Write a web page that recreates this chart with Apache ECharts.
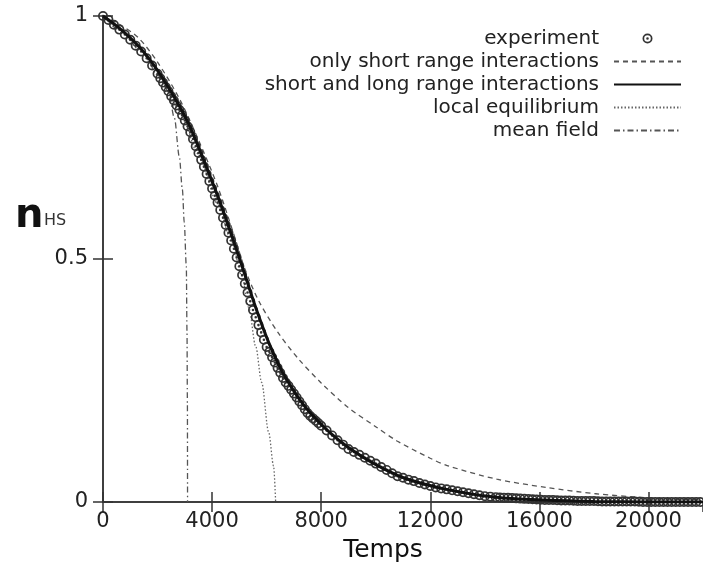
<!DOCTYPE html>
<html>
<head>
<meta charset="utf-8">
<script src="https://cdn.jsdelivr.net/npm/echarts@6/dist/echarts.min.js"></script>
<style>
html,body{margin:0;padding:0;background:#fff;}
#chart{width:703px;height:568px;}
</style>
</head>
<body>
<div id="chart"></div>
<script>
// ---- data (time, n_HS) ----
const xTicks = [0, 4000, 8000, 12000, 16000, 20000];
const yTicks = [0, 0.5, 1];

const experiment = [
[0,1.000],[200,0.992],[400,0.982],[600,0.972],[800,0.962],[1000,0.951],[1200,0.939],[1400,0.927],[1600,0.913],[1800,0.898],[2000,0.881],
[2100,0.872],[2200,0.863],[2300,0.854],[2400,0.845],[2500,0.835],[2600,0.826],[2700,0.816],[2800,0.807],[2900,0.796],[3000,0.785],
[3100,0.773],[3200,0.761],[3300,0.747],[3400,0.732],[3500,0.718],[3600,0.704],[3700,0.690],[3800,0.675],[3900,0.660],[4000,0.645],
[4100,0.630],[4200,0.616],[4300,0.601],[4400,0.585],[4500,0.570],[4600,0.554],[4700,0.538],[4800,0.521],[4900,0.503],[5000,0.485],
[5100,0.467],[5200,0.449],[5300,0.431],[5400,0.413],[5500,0.395],[5600,0.380],[5700,0.364],[5800,0.349],[5900,0.334],[6000,0.319],
[6100,0.309],[6200,0.298],[6300,0.287],[6400,0.276],[6500,0.266],[6600,0.255],[6700,0.246],[6800,0.239],[6900,0.231],[7000,0.223],
[7100,0.215],[7200,0.207],[7300,0.199],[7400,0.191],[7500,0.183],[7600,0.177],[7700,0.172],[7800,0.167],[7900,0.162],[8000,0.157],
[8200,0.147],[8400,0.137],[8600,0.127],[8800,0.118],[9000,0.109],[9200,0.103],[9400,0.097],[9600,0.091],[9800,0.085],[10000,0.079],
[10200,0.072],[10400,0.066],[10600,0.059],[10800,0.053],[11000,0.050],[11200,0.046],[11400,0.043],[11600,0.039],[11800,0.036],[12000,0.033],
[12200,0.030],[12400,0.028],[12600,0.026],[12800,0.024],[13000,0.022],[13200,0.020],[13400,0.018],[13600,0.016],[13800,0.014],[14000,0.012],
[14200,0.011],[14400,0.010],[14550,0.0095],[14700,0.009],[14850,0.0085],[15000,0.008],[15150,0.0075],[15300,0.007],[15450,0.0065],
[15600,0.006],[15750,0.0055],[15900,0.005],[16050,0.0045],[16200,0.004],[16350,0.004],[16500,0.004],[16650,0.0035],[16800,0.003],
[16950,0.003],[17100,0.003],[17250,0.0025],[17400,0.002],[17550,0.002],[17700,0.002],[17850,0.002],[18000,0.002],[18150,0.0015],
[18300,0.001],[18450,0.001],[18600,0.001],[18750,0.001],[18900,0.001],[19050,0.001],[19200,0.001],[19350,0.001],[19500,0.001],
[19650,0.0005],[19800,0.000],[19950,0.000],[20100,0.000],[20250,0.000],[20400,0.000],[20550,0.000],[20700,0.000],[20850,0.000],
[21000,0.000],[21150,0.000],[21300,0.000],[21450,0.000],[21600,0.000],[21750,0.000],[21900,0.000]
];

const shortRange = [
[0,1.000],[600,0.983],[1300,0.955],[2000,0.905],[2800,0.830],[3500,0.745],[4200,0.650],[4800,0.550],[5200,0.480],[5700,0.415],
[6400,0.350],[7160,0.295],[8000,0.245],[8980,0.195],[10000,0.155],[10800,0.125],[12000,0.090],[12620,0.075],[14440,0.047],
[16250,0.030],[18070,0.017],[19890,0.009],[21700,0.005],[22000,0.005]
];

const shortLongRange = [
[0,1.000],[600,0.975],[1350,0.935],[2073,0.882],[2800,0.815],[3200,0.771],[3800,0.688],[4300,0.615],[4800,0.535],[5200,0.468],
[5600,0.400],[6100,0.325],[6700,0.255],[7600,0.183],[9000,0.112],[10800,0.055],[12600,0.026],[14400,0.010],[16200,0.004],
[18000,0.001],[20000,0.000],[22000,0.000]
];

const localEquilibrium = [
[0,1.000],[600,0.972],[1350,0.930],[2073,0.875],[2800,0.807],[3500,0.716],[4200,0.614],[4727,0.534],[5091,0.465],[5345,0.400],
[5600,0.320],[5818,0.246],[6073,0.144],[6255,0.074],[6330,0.000]
];

const meanField = [
[0,1.000],[600,0.972],[1350,0.932],[2073,0.877],[2400,0.845],[2618,0.790],[2800,0.710],[2910,0.643],[2980,0.575],[3055,0.485],
[3080,0.350],[3095,0.200],[3100,0.000]
];

const seriesNames = ['experiment', 'only short range interactions', 'short and long range interactions', 'local equilibrium', 'mean field'];

// ---- chart ----
const ringDot = 'path://M0,-10A10,10 0 1,1 0,10A10,10 0 1,1 0,-10ZM0,-6.6A6.6,6.6 0 1,0 0,6.6A6.6,6.6 0 1,0 0,-6.6ZM0,-2.6A2.6,2.6 0 1,1 0,2.6A2.6,2.6 0 1,1 0,-2.6Z';
const axisColor = '#333';
const font = 'DejaVu Sans';

const legendData = seriesNames.map((n, i) => (i === 0 ? {name: n} :
  {name: n, itemStyle: {color: 'rgba(0,0,0,0)', borderColor: 'rgba(0,0,0,0)', borderWidth: 0, opacity: 0}}));

const chart = echarts.init(document.getElementById('chart'), null, {renderer: 'canvas'});
chart.setOption({
  animation: false,
  backgroundColor: '#fff',
  grid: {left: 103, top: 16, width: 605, height: 487, containLabel: false},
  legend: {
    orient: 'vertical', right: 16, top: 22, align: 'right',
    itemWidth: 67, itemHeight: 10, itemGap: 0,
    selectedMode: false,
    textStyle: {fontFamily: font, fontSize: 20, color: '#222', lineHeight: 23, padding: [0, 10, 0, 0]},
    data: legendData
  },
  xAxis: [{
    type: 'value', position: 'bottom', min: 0, max: 22000, interval: 4000,
    axisLine: {lineStyle: {color: axisColor, width: 1.5}},
    axisTick: {inside: true, length: 10, lineStyle: {color: axisColor, width: 1.5}},
    splitLine: {show: false},
    axisLabel: {fontFamily: font, fontSize: 21, color: '#222', margin: 9, showMaxLabel: false,
      formatter: v => (xTicks.indexOf(v) >= 0 ? String(v) : '')},
    name: 'Temps', nameLocation: 'middle', nameGap: 36,
    nameTextStyle: {fontFamily: font, fontSize: 25, color: '#111', padding: [0, 40, 0, 0]}
  }, {
    type: 'value', position: 'top', min: 0, max: 22000, interval: 4000,
    axisLine: {lineStyle: {color: axisColor, width: 1.5}},
    axisTick: {inside: true, length: 10, lineStyle: {color: axisColor, width: 1.5}},
    splitLine: {show: false}, axisLabel: {show: false}
  }],
  yAxis: [{
    type: 'value', position: 'left', min: 0, max: 1, interval: 0.5,
    axisLine: {lineStyle: {color: axisColor, width: 1.5}},
    axisTick: {inside: true, length: 10, lineStyle: {color: axisColor, width: 1.5}},
    splitLine: {show: false},
    axisLabel: {fontFamily: font, fontSize: 21, color: '#222', margin: 15,
      formatter: v => (yTicks.indexOf(v) >= 0 ? String(v) : '')}
  }, {
    type: 'value', position: 'right', min: 0, max: 1, interval: 0.5,
    axisLine: {lineStyle: {color: axisColor, width: 1.5}},
    axisTick: {inside: true, length: 10, lineStyle: {color: axisColor, width: 1.5}},
    splitLine: {show: false}, axisLabel: {show: false}
  }],
  graphic: [
    {type: 'text', x: 15, y: 217, style: {text: 'n', font: 'bold 40px "DejaVu Sans"', fill: '#111', verticalAlign: 'middle'}},
    {type: 'text', x: 44, y: 221, style: {text: 'HS', font: '16px "DejaVu Sans"', fill: '#333', verticalAlign: 'middle'}}
  ],
  series: [
    {name: seriesNames[1], type: 'line', data: shortRange, symbol: 'none', smooth: 0.3, z: 2,
      lineStyle: {color: '#555', width: 1.3, type: [5, 4]}, itemStyle: {color: '#555'}},
    {name: seriesNames[3], type: 'line', data: localEquilibrium, symbol: 'none', smooth: 0.3, smoothMonotone: 'x', z: 2,
      lineStyle: {color: '#666', width: 1.3, type: [1.5, 2]}, itemStyle: {color: '#666'}},
    {name: seriesNames[4], type: 'line', data: meanField, symbol: 'none', smooth: 0.3, smoothMonotone: 'x', z: 2,
      lineStyle: {color: '#555', width: 1.3, type: [6, 3, 1.5, 3]}, itemStyle: {color: '#555'}},
    {name: seriesNames[0], type: 'scatter', data: experiment, symbol: ringDot, symbolSize: 10, symbolKeepAspect: true, z: 3,
      itemStyle: {color: '#333', opacity: 1}},
    {name: seriesNames[2], type: 'line', data: shortLongRange, symbol: 'none', smooth: 0.3, z: 4,
      lineStyle: {color: '#111', width: 3}, itemStyle: {color: '#111'}}
  ]
});
</script>
</body>
</html>
